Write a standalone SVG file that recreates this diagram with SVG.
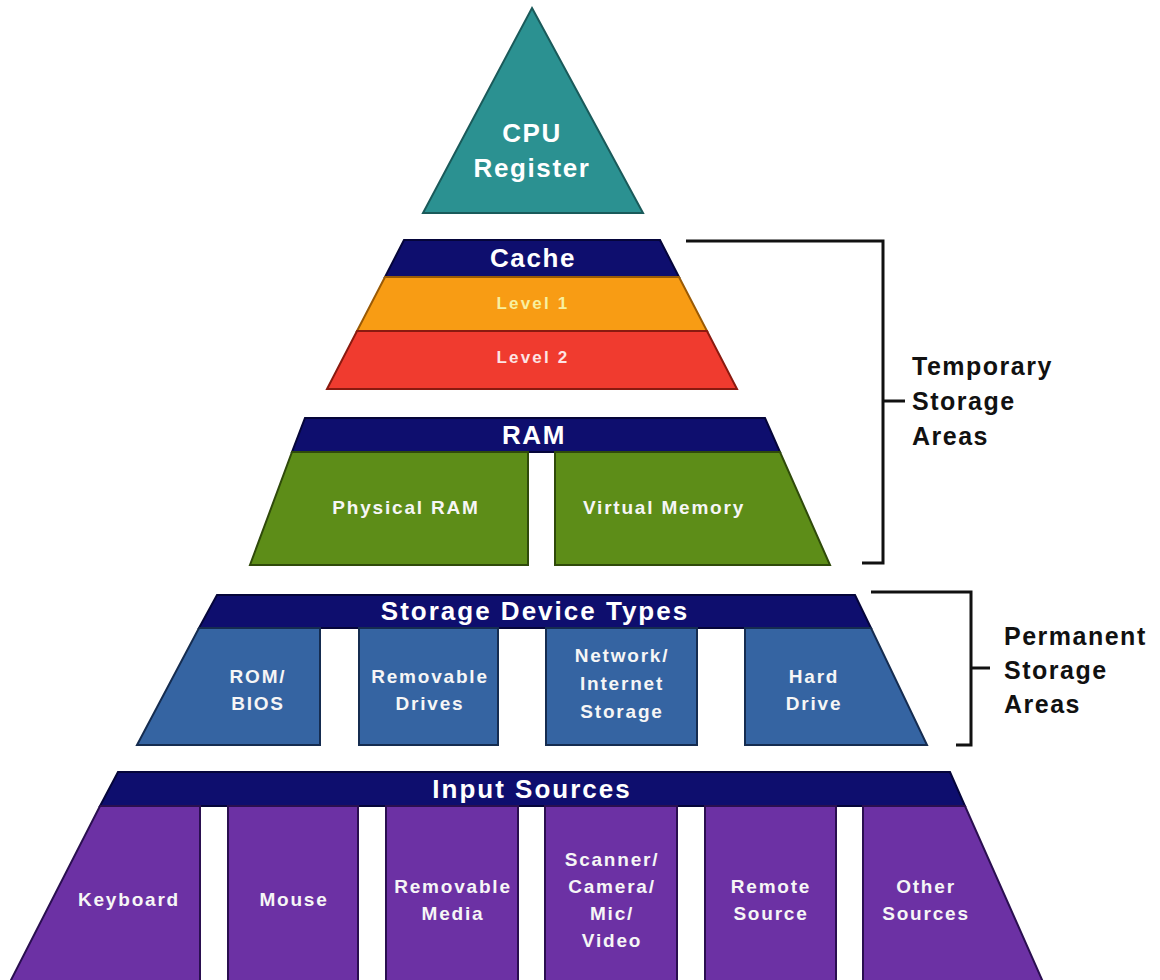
<svg xmlns="http://www.w3.org/2000/svg" width="1160" height="980" viewBox="0 0 1160 980">
<style>
.t{font-family:"Liberation Sans",Arial,sans-serif;font-weight:bold;text-anchor:middle}
.big{font-size:26px;letter-spacing:1.6px;fill:#ffffff}
.hdr{font-size:26px;letter-spacing:2px;fill:#ffffff}
.sm{font-size:19px;letter-spacing:1.8px;fill:#f6f6f6}
.lv{font-size:17px;letter-spacing:2.2px}
.side{font-family:"Liberation Sans",Arial,sans-serif;font-weight:bold;font-size:25px;letter-spacing:1.5px;fill:#111111}
.navy{fill:#0e0e6e;stroke:#05053a;stroke-width:2}
.green{fill:#5d8d18;stroke:#2f4a0a;stroke-width:2}
.blue{fill:#3564a2;stroke:#152c50;stroke-width:2}
.purple{fill:#6c31a4;stroke:#2a0f50;stroke-width:2}
.br{fill:none;stroke:#111111;stroke-width:3}
</style>
<rect width="1160" height="980" fill="#ffffff"/>

<g id="cpu">
<polygon points="532,8 643,213 423,213" fill="#2b9191" stroke="#1a5a5a" stroke-width="2"/>
<text class="t big" x="532" y="142">CPU</text>
<text class="t big" x="532" y="177">Register</text>
</g>

<g id="cache">
<polygon class="navy" points="404,240 660,240 679,277 385,277"/>
<text class="t big" x="533" y="267">Cache</text>
</g>
<g id="level1">
<polygon points="385,277 679,277 707,331 357,331" fill="#f89c14" stroke="#9a5a05" stroke-width="2"/>
<text class="t lv" x="533" y="309" fill="#f7f0a0">Level 1</text>
</g>
<g id="level2">
<polygon points="357,331 707,331 737,389 327,389" fill="#f03b2f" stroke="#8a1a10" stroke-width="2"/>
<text class="t lv" x="533" y="363" fill="#fde4e4">Level 2</text>
</g>

<g id="ram">
<polygon class="navy" points="305,418 765,418 780,452 292,452"/>
<text class="t big" x="534" y="444">RAM</text>
</g>
<g id="physical-ram">
<polygon class="green" points="292,452 528,452 528,565 250,565"/>
<text class="t sm" x="406" y="514" fill="#f0f0c8">Physical RAM</text>
</g>
<g id="virtual-memory">
<polygon class="green" points="555,452 780,452 830,565 555,565"/>
<text class="t sm" x="664" y="514" fill="#f0f0c8">Virtual Memory</text>
</g>

<g id="storage-device-types">
<polygon class="navy" points="217,595 855,595 871,628 199,628"/>
<text class="t hdr" x="535" y="620">Storage Device Types</text>
</g>
<g id="rom-bios">
<polygon class="blue" points="199,628 320,628 320,745 137,745"/>
<text class="t sm" x="258" y="683">ROM/</text>
<text class="t sm" x="258" y="710">BIOS</text>
</g>
<g id="removable-drives">
<rect class="blue" x="359" y="628" width="139" height="117"/>
<text class="t sm" x="430" y="683">Removable</text>
<text class="t sm" x="430" y="710">Drives</text>
</g>
<g id="network-storage">
<rect class="blue" x="546" y="628" width="151" height="117"/>
<text class="t sm" x="622" y="662">Network/</text>
<text class="t sm" x="622" y="690">Internet</text>
<text class="t sm" x="622" y="718">Storage</text>
</g>
<g id="hard-drive">
<polygon class="blue" points="745,628 871,628 927,745 745,745"/>
<text class="t sm" x="814" y="683">Hard</text>
<text class="t sm" x="814" y="710">Drive</text>
</g>

<g id="input-sources">
<polygon class="navy" points="118,772 950,772 965,806 100,806"/>
<text class="t hdr" x="532" y="798">Input Sources</text>
</g>
<g id="keyboard">
<polygon class="purple" points="100,806 200,806 200,982 10,982"/>
<text class="t sm" x="129" y="906">Keyboard</text>
</g>
<g id="mouse">
<rect class="purple" x="228" y="806" width="130" height="176"/>
<text class="t sm" x="294" y="906">Mouse</text>
</g>
<g id="removable-media">
<rect class="purple" x="386" y="806" width="132" height="176"/>
<text class="t sm" x="453" y="893">Removable</text>
<text class="t sm" x="453" y="920">Media</text>
</g>
<g id="scanner">
<rect class="purple" x="545" y="806" width="132" height="176"/>
<text class="t sm" x="612" y="866">Scanner/</text>
<text class="t sm" x="612" y="893">Camera/</text>
<text class="t sm" x="612" y="920">Mic/</text>
<text class="t sm" x="612" y="947">Video</text>
</g>
<g id="remote-source">
<rect class="purple" x="705" y="806" width="131" height="176"/>
<text class="t sm" x="771" y="893">Remote</text>
<text class="t sm" x="771" y="920">Source</text>
</g>
<g id="other-sources">
<polygon class="purple" points="863,806 965,806 1043,982 863,982"/>
<text class="t sm" x="926" y="893">Other</text>
<text class="t sm" x="926" y="920">Sources</text>
</g>

<g id="connectors">
<polyline class="br" points="686,241 883,241 883,563 862,563"/>
<line class="br" x1="883" y1="401" x2="905" y2="401"/>
<polyline class="br" points="871,592 971,592 971,745 956,745"/>
<line class="br" x1="971" y1="668" x2="990" y2="668"/>
</g>

<g id="temporary-label">
<text class="side" x="912" y="375">Temporary</text>
<text class="side" x="912" y="410">Storage</text>
<text class="side" x="912" y="445">Areas</text>
</g>
<g id="permanent-label">
<text class="side" x="1004" y="645">Permanent</text>
<text class="side" x="1004" y="679">Storage</text>
<text class="side" x="1004" y="713">Areas</text>
</g>
</svg>
